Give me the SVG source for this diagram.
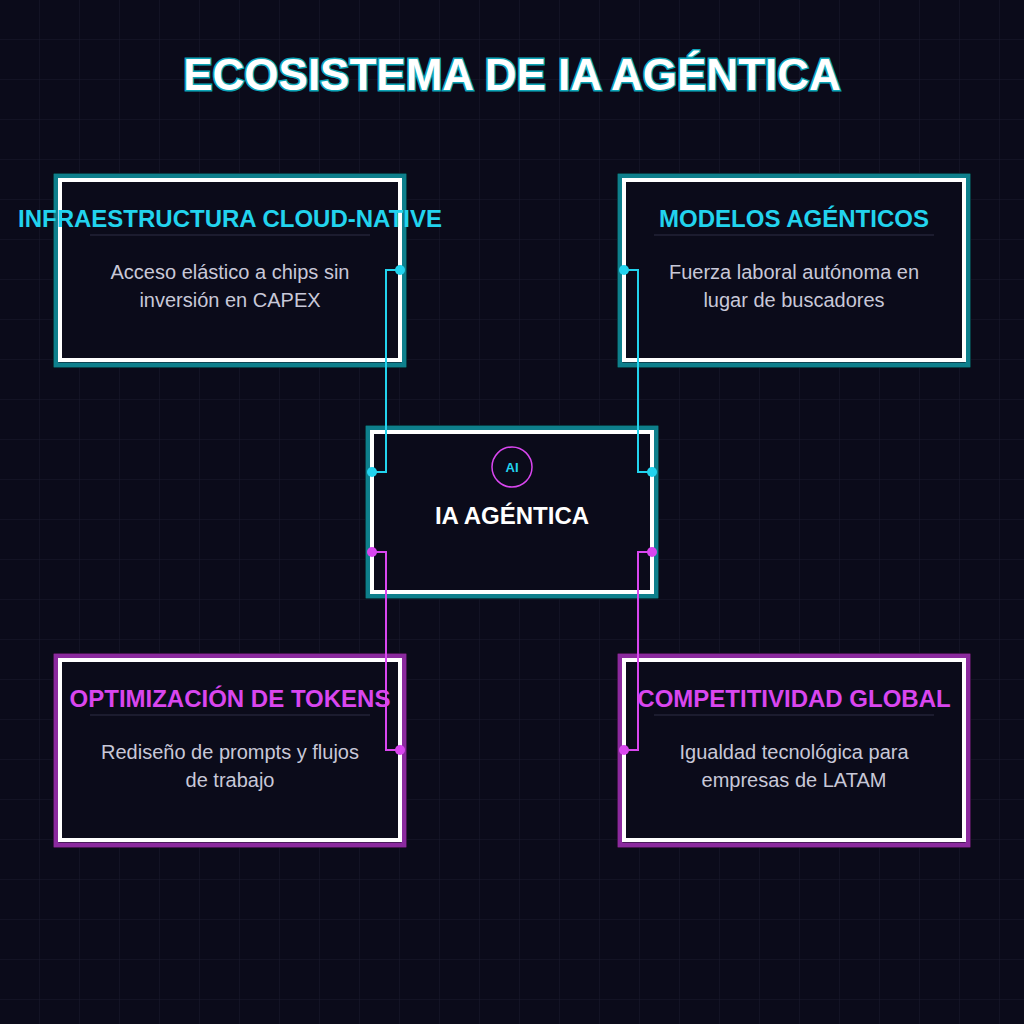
<svg xmlns="http://www.w3.org/2000/svg" width="1024" height="1024" viewBox="0 0 1024 1024">
<defs>
<pattern id="grid" width="40" height="40" patternUnits="userSpaceOnUse"><path d="M40 0V40M0 40H40" fill="none" stroke="#1a1a2e" stroke-width="1"/></pattern>
<style>
.t{font-family:"Liberation Sans",Arial,sans-serif}
.h{font-weight:bold;font-size:24px;text-anchor:middle}
.b{font-size:20px;fill:#c8c8d8;text-anchor:middle}
.w{fill:none;stroke:#fff;stroke-width:4}
.sh{fill:#000}
.c{stroke:#22d3ee}.m{stroke:#d946ef}
.cf{fill:#22d3ee}.mf{fill:#d946ef}
.sep{stroke:#2e2e44;stroke-width:1}
</style>
</defs>
<rect width="1024" height="1024" fill="#0b0b1a"/>
<rect width="1024" height="1024" fill="url(#grid)"/>
<text x="512" y="90" class="t" font-size="44" font-weight="bold" text-anchor="middle" fill="#fff" stroke="#0ea5b7" stroke-width="3" paint-order="stroke">ECOSISTEMA DE IA AGÉNTICA</text>
<g id="cloud">
<rect x="53" y="173" width="354" height="195" class="sh"/>
<rect x="56" y="176" width="348" height="189" fill="#0b0b1a" stroke="#0e7f8c" stroke-width="5"/>
<rect x="60" y="180" width="340" height="180" class="w"/>
<text x="230" y="227" class="t h" fill="#22d3ee">INFRAESTRUCTURA CLOUD-NATIVE</text>
<line x1="90" y1="235" x2="370" y2="235" class="sep"/>
<text x="230" y="279" class="t b">Acceso elástico a chips sin</text>
<text x="230" y="307" class="t b">inversión en CAPEX</text>
</g>
<g id="modelos">
<rect x="617" y="173" width="354" height="195" class="sh"/>
<rect x="620" y="176" width="348" height="189" fill="#0b0b1a" stroke="#0e7f8c" stroke-width="5"/>
<rect x="624" y="180" width="340" height="180" class="w"/>
<text x="794" y="227" class="t h" fill="#22d3ee">MODELOS AGÉNTICOS</text>
<line x1="654" y1="235" x2="934" y2="235" class="sep"/>
<text x="794" y="279" class="t b">Fuerza laboral autónoma en</text>
<text x="794" y="307" class="t b">lugar de buscadores</text>
</g>
<g id="tokens">
<rect x="53" y="653" width="354" height="195" class="sh"/>
<rect x="56" y="656" width="348" height="189" fill="#0b0b1a" stroke="#8b2a9e" stroke-width="5"/>
<rect x="60" y="660" width="340" height="180" class="w"/>
<text x="230" y="707" class="t h" fill="#d946ef">OPTIMIZACIÓN DE TOKENS</text>
<line x1="90" y1="715" x2="370" y2="715" class="sep"/>
<text x="230" y="759" class="t b">Rediseño de prompts y flujos</text>
<text x="230" y="787" class="t b">de trabajo</text>
</g>
<g id="global">
<rect x="617" y="653" width="354" height="195" class="sh"/>
<rect x="620" y="656" width="348" height="189" fill="#0b0b1a" stroke="#8b2a9e" stroke-width="5"/>
<rect x="624" y="660" width="340" height="180" class="w"/>
<text x="794" y="707" class="t h" fill="#d946ef">COMPETITIVIDAD GLOBAL</text>
<line x1="654" y1="715" x2="934" y2="715" class="sep"/>
<text x="794" y="759" class="t b">Igualdad tecnológica para</text>
<text x="794" y="787" class="t b">empresas de LATAM</text>
</g>
<g id="center">
<rect x="365" y="425" width="294" height="174" class="sh"/>
<rect x="368" y="428" width="288" height="168" fill="#0b0b1a" stroke="#0e7f8c" stroke-width="5"/>
<rect x="372" y="432" width="280" height="160" class="w"/>
<circle cx="512" cy="467" r="20" fill="none" stroke="#d946ef" stroke-width="1.5"/>
<text x="512" y="472" class="t" font-size="13" font-weight="bold" fill="#22d3ee" text-anchor="middle">AI</text>
<text x="512" y="524" class="t" font-size="24" font-weight="bold" fill="#fff" text-anchor="middle">IA AGÉNTICA</text>
</g>
<g id="connectors" fill="none" stroke-width="2">
<path d="M400 270H386V472H372" class="c"/>
<path d="M624 270H638V472H652" class="c"/>
<path d="M372 552H386V750H400" class="m"/>
<path d="M652 552H638V750H624" class="m"/>
<g stroke="none">
<circle cx="400" cy="270" r="5" class="cf"/><circle cx="372" cy="472" r="5" class="cf"/>
<circle cx="624" cy="270" r="5" class="cf"/><circle cx="652" cy="472" r="5" class="cf"/>
<circle cx="372" cy="552" r="5" class="mf"/><circle cx="400" cy="750" r="5" class="mf"/>
<circle cx="652" cy="552" r="5" class="mf"/><circle cx="624" cy="750" r="5" class="mf"/>
</g>
</g>
</svg>
